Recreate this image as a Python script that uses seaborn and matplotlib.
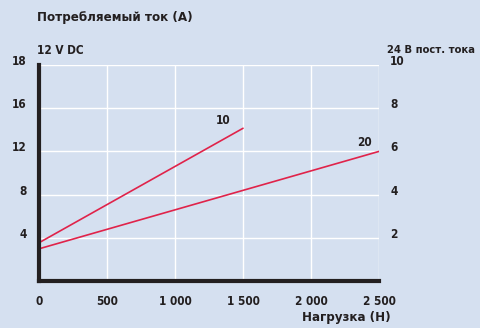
import matplotlib
matplotlib.use("Agg")
import matplotlib.pyplot as plt
import seaborn as sns
import pandas as pd

# Load (N) vs. current draw, in 24 V DC units
series = ["10", "10", "20", "20"]
load_n = [0, 1500, 0, 2500]
current = [1.77, 7.07, 1.49, 6.0]

x_ticks = [0, 500, 1000, 1500, 2000, 2500]
x_labels = ["0", "500", "1 000", "1 500", "2 000", "2 500"]
y_ticks = [2, 4, 6, 8, 10]
left_labels = ["4", "8", "12", "16", "18"]
right_labels = ["2", "4", "6", "8", "10"]

bg = "#d5e0f0"
ink = "#231f20"
red = "#e0234a"

sns.set_theme(style="white")
plt.rcParams["font.family"] = ["DejaVu Sans"]
plt.rcParams["font.stretch"] = "condensed"
plt.rcParams["font.weight"] = "bold"

small = 8.5
big = 9.5

df = pd.DataFrame({"series": series, "load": load_n, "current": current})

fig = plt.figure(figsize=(4.8, 3.28), dpi=100, facecolor=bg)
ax = fig.add_axes([39 / 480, 1 - 281 / 328, 340 / 480, 216 / 328])
ax.set_facecolor(bg)

sns.lineplot(data=df, x="load", y="current", hue="series",
             palette=[red, red], linewidth=1.2, legend=False, ax=ax)

ax.set_xlim(0, 2500)
ax.set_ylim(0, 10)
ax.set_xticks(x_ticks)
ax.set_yticks(y_ticks)
ax.grid(True, color="white", linewidth=1.0)
ax.set_axisbelow(True)

for s in ["top", "right"]:
    ax.spines[s].set_visible(False)
for s in ["left", "bottom"]:
    ax.spines[s].set_color(ink)
    ax.spines[s].set_linewidth(3)
    ax.spines[s].set_zorder(5)

ax.set_xticklabels(x_labels, fontsize=small, fontweight="bold", color=ink)
ax.set_yticklabels(left_labels, fontsize=small, fontweight="bold", color=ink,
                   va="baseline")
ax.tick_params(axis="x", length=0, pad=10)
ax.tick_params(axis="y", length=0, pad=9)
ax.set_xlabel("")
ax.set_ylabel("")

ax2 = ax.twinx()
ax2.set_ylim(0, 10)
ax2.set_yticks(y_ticks)
ax2.set_yticklabels(right_labels, fontsize=small, fontweight="bold", color=ink,
                    va="baseline")
ax2.tick_params(axis="y", length=0, pad=8)
for s in ax2.spines.values():
    s.set_visible(False)

# line labels
ax.text(1300, 7.25, "10", fontsize=small, fontweight="bold", color=ink)
ax.text(2340, 6.25, "20", fontsize=small, fontweight="bold", color=ink)

fig.text(37 / 480, 1 - 18 / 328, "Потребляемый ток (А)", fontsize=big,
         fontweight="bold", color=ink, va="center", ha="left")
fig.text(37 / 480, 1 - 50 / 328, "12 V DC", fontsize=small, fontweight="bold",
         color=ink, va="center", ha="left")
fig.text(387 / 480, 1 - 50 / 328, "24 В пост. тока", fontsize=8,
         fontweight="bold", color=ink, va="center", ha="left")
fig.text(391 / 480, 1 - 318 / 328, "Нагрузка (Н)", fontsize=big,
         fontweight="bold", color=ink, va="center", ha="right")

fig.savefig("out.png", dpi=100, facecolor=bg)
